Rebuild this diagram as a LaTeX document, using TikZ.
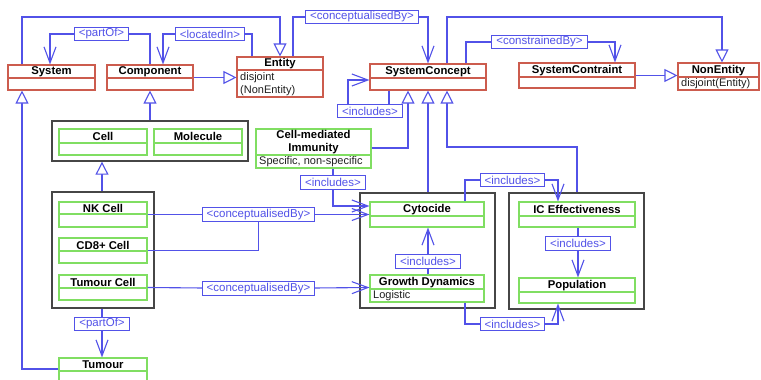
\documentclass[tikz,border=0pt]{standalone}
\usepackage{fontspec}
\setmainfont{Liberation Sans}
\usetikzlibrary{arrows.meta,fit}

\definecolor{umlblue}{RGB}{82,82,232}
\definecolor{umlred}{RGB}{204,92,78}
\definecolor{umlgreen}{RGB}{128,222,98}
\definecolor{grpgray}{RGB}{70,70,70}
\definecolor{attrtext}{RGB}{30,30,30}

\tikzset{
  classframe/.style={line width=1.1pt, inner sep=0pt},
  classname/.style={font=\fontsize{11.3}{13}\selectfont\bfseries, inner sep=0pt, align=center, text=black},
  attr/.style={font=\fontsize{11}{13}\selectfont, inner sep=0pt, align=left, anchor=west, text=attrtext},
  group/.style={draw=grpgray, line width=1.4pt, inner sep=0pt},
  conn/.style={draw=umlblue, line width=1.1pt},
  gen/.style={conn, -{Triangle[length=13pt,width=13pt,fill=white]}},
  nav/.style={conn, -{Straight Barb[length=16pt,width=12pt]}},
  lbl/.style={draw=umlblue, fill=white, text=umlblue, line width=1pt,
    font=\fontsize{11.5}{13}\selectfont, inner xsep=4.5pt, inner ysep=1pt,
    minimum height=13.5pt},
}

% class box: name, colour, left, top, right, bottom, divider, title
\newcommand\umlclass[8]{%
  \node[classframe, draw=#2, fit={(#3,#4) (#5,#6)}] (#1) {};
  \draw[#2, line width=1.1pt] (#3,#7) -- (#5,#7);
  \node[classname] (#1-name) at ({(#3+#5)/2},{(#4+#7)/2+0.5}) {#8};
}

\begin{document}
\begin{tikzpicture}[x=1pt, y=-1pt]
\useasboundingbox (0,0) rectangle (761,380);

% group frames
\node[group, fit={(52,121) (248,161)}] (cellgrp) {};
\node[group, fit={(52,192) (154,308)}] (nkgrp) {};
\node[group, fit={(360,193) (495,308)}] (cytgrp) {};
\node[group, fit={(509,193) (644,309)}] (icgrp) {};

% top-level concepts
\umlclass{system}{umlred}{8}{65}{95}{90}{78}{System}
\umlclass{component}{umlred}{107}{65}{193}{90}{78}{Component}
\umlclass{entity}{umlred}{237}{57}{323}{97}{70}{Entity}
\node[attr] (entity-attr) at (240,84.5) {disjoint\\(NonEntity)};
\umlclass{sysconcept}{umlred}{370}{64}{486}{90}{78}{SystemConcept}
\umlclass{syscons}{umlred}{519}{63}{635}{88}{77}{SystemContraint}
\umlclass{nonentity}{umlred}{678}{63}{759}{90}{77}{NonEntity}
\node[attr] (nonentity-attr) at (681,84) {disjoint(Entity)};

% biological components
\umlclass{cell}{umlgreen}{59}{129}{147}{155}{143}{Cell}
\umlclass{molecule}{umlgreen}{154}{129}{242}{155}{143}{Molecule}
\umlclass{nkcell}{umlgreen}{59}{202}{147}{227}{214}{NK Cell}
\umlclass{cd8}{umlgreen}{59}{238}{147}{263}{251}{CD8+ Cell}
\umlclass{tumourcell}{umlgreen}{59}{275}{147}{300}{288}{Tumour Cell}
\umlclass{tumour}{umlgreen}{59}{358}{147}{386}{371}{Tumour}

% system concepts
\umlclass{cmi}{umlgreen}{256}{129}{371}{168}{155}{Cell-mediated\\Immunity}
\node[attr] (cmi-attr) at (259,161.5) {Specific, non-specific};
\umlclass{cytocide}{umlgreen}{370}{202}{484}{227}{216}{Cytocide}
\umlclass{growth}{umlgreen}{370}{275}{484}{302}{289}{Growth Dynamics}
\node[attr] (growth-attr) at (373,296) {Logistic};
\umlclass{iceff}{umlgreen}{519}{202}{635}{227}{216}{IC Effectiveness}
\umlclass{population}{umlgreen}{519}{278}{635}{303}{292}{Population}

% generalisations
\draw[gen] (system.north -| 22,0) |- (280,17) -- (entity.north -| 280,0);
\draw[gen] (component.east) -- (entity.west |- component.east);
\draw[gen] (sysconcept.north -| 447,0) |- (722,17) -- (nonentity.north -| 722,0);
\draw[gen] (syscons.east) -- (nonentity.west |- syscons.east);
\draw[gen] (cmi.east |- 0,148) -- (408,148) -- (sysconcept.south -| 408,0);
\draw[gen] (cytgrp.north -| 428,0) -- (sysconcept.south -| 428,0);
\draw[gen] (icgrp.north -| 577,0) |- (447,147) -- (sysconcept.south -| 447,0);
\draw[gen] (cellgrp.north -| 150,0) -- (component.south -| 150,0);
\draw[gen] (nkgrp.north -| 102,0) -- (cellgrp.south -| 102,0);
\draw[gen] (tumour.west |- 0,369) -- (22,369) -- (system.south -| 22,0);

% associations
\draw[nav] (component.north -| 150,0) -- (150,34) -- (101.5,34)
  node[lbl] (l-partof1) {\textless partOf\textgreater} -- (50,34) -- (system.north -| 50,0);
\draw[nav] (entity.north -| 252,0) -- (252,34) -- (210,34)
  node[lbl] (l-located) {\textless locatedIn\textgreater} -- (163,34) -- (component.north -| 163,0);
\draw[nav] (entity.north -| 293,0) -- (293,17) -- (362,17)
  node[lbl] (l-concept1) {\textless conceptualisedBy\textgreater} -- (428,17) -- (sysconcept.north -| 428,0);
\draw[nav] (sysconcept.north -| 466,0) -- (466,42) -- (539.5,42)
  node[lbl] (l-constr) {\textless constrainedBy\textgreater} -- (615,42) -- (syscons.north -| 615,0);
\draw[nav] (sysconcept.south -| 389,0) -- (389,111) -- (370,111)
  node[lbl] (l-incl1) {\textless includes\textgreater} -- (348,111) -- (348,80) -- (sysconcept.west |- 0,80);
\draw[nav] (cmi.south -| 333,0) -- (333,182.5)
  node[lbl] (l-incl2) {\textless includes\textgreater} -- (333,206) -- (cytocide.west |- 0,206);
\draw[nav] (cytocide.north -| 465,0) -- (465,180) -- (512.5,180)
  node[lbl] (l-incl3) {\textless includes\textgreater} -- (558,180) -- (iceff.north -| 558,0);
\draw[nav] (iceff.south -| 578,0) -- (578,243.5)
  node[lbl] (l-incl4) {\textless includes\textgreater} -- (population.north -| 578,0);
\draw[nav] (growth.north -| 428,0) -- (428,261.5)
  node[lbl] (l-incl5) {\textless includes\textgreater} -- (cytocide.south -| 428,0);
\draw[nav] (growth.south -| 465,0) -- (465,324) -- (512.5,324)
  node[lbl] (l-incl6) {\textless includes\textgreater} -- (558,324) -- (population.south -| 558,0);
\draw[nav] (nkgrp.south -| 102,0) -- (102,324)
  node[lbl] (l-partof2) {\textless partOf\textgreater} -- (tumour.north -| 102,0);
\draw[nav] (nkcell.east) -- (258.5,214.5)
  node[lbl] (l-concept2) {\textless conceptualisedBy\textgreater} -- (cytocide.west |- nkcell.east);
\draw[conn] (cd8.east) -| (l-concept2.south);
\draw[nav] (tumourcell.east) -- (258.5,288.5)
  node[lbl] (l-concept3) {\textless conceptualisedBy\textgreater} -- (growth.west |- tumourcell.east);

\end{tikzpicture}
\end{document}
